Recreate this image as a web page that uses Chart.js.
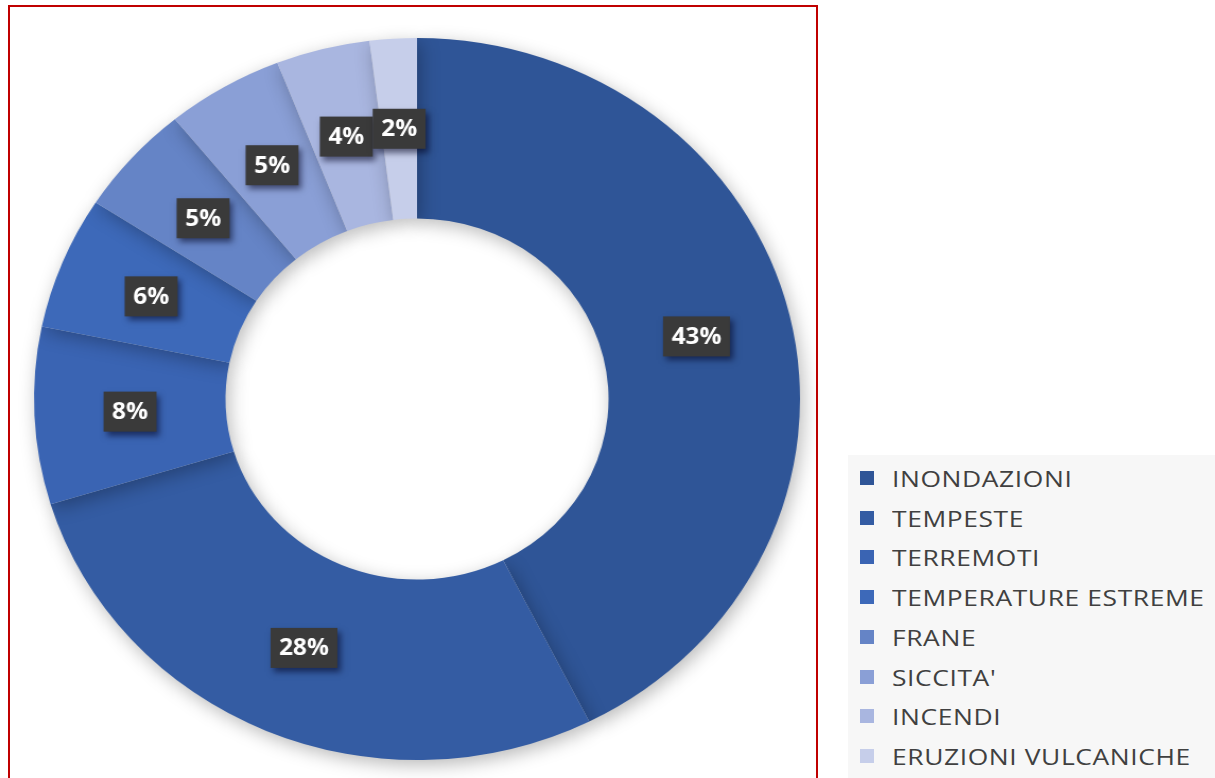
<!DOCTYPE html>
<html>
<head>
<meta charset="utf-8">
<script src="https://cdn.jsdelivr.net/npm/chart.js@4/dist/chart.umd.min.js"></script>
<style>
  html, body { margin: 0; padding: 0; background: #ffffff; width: 1215px; height: 778px; overflow: hidden; }
  #frame { position: absolute; left: 8px; top: 5px; width: 810px; height: 800px; border: 2px solid #c00000; box-sizing: border-box; }
  #wrap { position: absolute; left: 37px; top: 19px; width: 760px; height: 760px; transform: scaleX(1.061); transform-origin: 380px 380px; }
  #legend { position: absolute; left: 848px; top: 455px; width: 367px; height: 323px; background: #f7f7f7; }
  .item { position: absolute; left: 12px; height: 30px; display: flex; align-items: center; }
  .sw { width: 14px; height: 14px; margin-right: 18px; }
  .tx { display: inline-block; font-family: "Open Sans", sans-serif; font-size: 22px; letter-spacing: 0.5px; color: #404040; white-space: nowrap; transform: scaleX(1.2); transform-origin: 0 50%; }
</style>
</head>
<body>
<div id="frame"></div>
<div id="wrap"><canvas id="c" width="760" height="760"></canvas></div>
<div id="legend"></div>
<script>
const categories = ["INONDAZIONI", "TEMPESTE", "TERREMOTI", "TEMPERATURE ESTREME", "FRANE", "SICCITA'", "INCENDI", "ERUZIONI VULCANICHE"];
const shares = [43, 28, 8, 6, 5, 5, 4, 2];
const colors = ["#2f5597", "#345ca3", "#3a64b3", "#3d69b9", "#6584c6", "#8a9fd6", "#a9b6e0", "#c6ceea"];

const labelPlugin = {
  id: 'boxLabels',
  afterDatasetsDraw(chart) {
    const ctx = chart.ctx;
    const meta = chart.getDatasetMeta(0);
    ctx.save();
    ctx.font = 'bold 23px "Open Sans", sans-serif';
    ctx.textAlign = 'center';
    ctx.textBaseline = 'middle';
    meta.data.forEach((arc, i) => {
      const p = arc.tooltipPosition();
      const txt = shares[i] + '%';
      const w = ctx.measureText(txt).width + 16;
      const h = 40;
      ctx.save();
      ctx.shadowColor = 'rgba(0,0,30,0.55)';
      ctx.shadowBlur = 6;
      ctx.shadowOffsetX = 3;
      ctx.shadowOffsetY = 4;
      ctx.fillStyle = '#3a3a3a';
      ctx.fillRect(p.x - w / 2, p.y - h / 2, w, h);
      ctx.restore();
      ctx.fillStyle = '#ffffff';
      ctx.fillText(txt, p.x, p.y + 1);
    });
    ctx.restore();
  }
};

const shadowPlugin = {
  id: 'ringShadow',
  beforeDatasetsDraw(chart) {
    const ctx = chart.ctx;
    ctx.save();
    ctx.shadowColor = 'rgba(0,0,0,0.28)';
    ctx.shadowBlur = 18;
    ctx.shadowOffsetX = 3;
    ctx.shadowOffsetY = 5;
  },
  afterDatasetsDraw(chart) {
    chart.ctx.restore();
  }
};

new Chart(document.getElementById('c'), {
  type: 'doughnut',
  data: {
    labels: categories,
    datasets: [{
      data: shares,
      backgroundColor: colors,
      borderWidth: 0,
      hoverOffset: 0
    }]
  },
  options: {
    responsive: false,
    animation: false,
    cutout: '50%',
    layout: { padding: 19 },
    plugins: { legend: { display: false }, tooltip: { enabled: false } }
  },
  plugins: [shadowPlugin, labelPlugin]
});

const legend = document.getElementById('legend');
categories.forEach((name, i) => {
  const d = document.createElement('div');
  d.className = 'item';
  d.style.top = (8 + i * 39.7) + 'px';
  const s = document.createElement('span');
  s.className = 'sw';
  s.style.background = colors[i];
  const t = document.createElement('span');
  t.className = 'tx';
  t.textContent = name;
  d.appendChild(s);
  d.appendChild(t);
  legend.appendChild(d);
});
</script>
</body>
</html>
